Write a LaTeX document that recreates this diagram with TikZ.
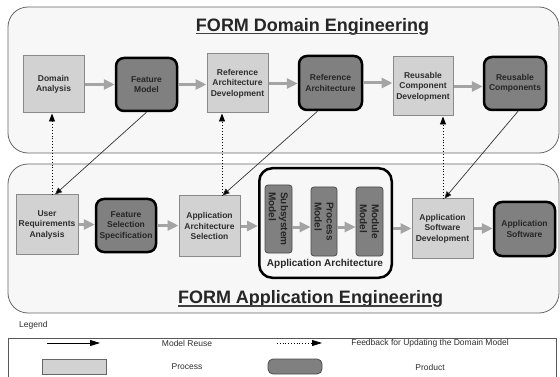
\documentclass[tikz,border=0pt]{standalone}
\usepackage{fontspec}
\setmainfont{Liberation Sans}
\usetikzlibrary{arrows.meta,calc}
\definecolor{panelbg}{HTML}{F7F7F7}
\definecolor{panelline}{HTML}{666666}
\definecolor{procfill}{HTML}{D2D2D2}
\definecolor{procline}{HTML}{8A8A8A}
\definecolor{prodfill}{HTML}{808080}
\definecolor{arrowgray}{HTML}{A4A4A4}
\definecolor{textc}{HTML}{2E2E2E}
\begin{document}
\begin{tikzpicture}[x=1pt,y=-1pt,
  panel/.style={draw=panelline, fill=panelbg, line width=0.8pt, rounded corners=20pt},
  boxfont/.style={font=\fontsize{8.5}{10.5}\selectfont\bfseries},
  proc/.style={boxfont, draw=procline, fill=procfill, line width=1pt, inner sep=0pt, align=center, text=textc},
  prod/.style={boxfont, draw=black, fill=prodfill, line width=2.5pt, rounded corners=8pt, inner sep=0pt, align=center, text=black!85},
  cont/.style={draw=black, fill=panelbg, line width=2.5pt, rounded corners=13pt, inner sep=0pt},
  model/.style={draw=black!70, fill=prodfill, line width=0.8pt, rounded corners=3pt, inner sep=0pt},
  rottext/.style={rotate=-90, font=\fontsize{10}{12}\selectfont\bfseries, align=left, text=black!85, inner sep=0pt},
  title/.style={font=\fontsize{18}{21}\selectfont\bfseries, text=black!85, inner sep=0pt},
  uline/.style={draw=black!75, line width=1.3pt},
  garrow/.style={draw=arrowgray, line width=3pt, -{Triangle[length=11pt,width=10pt,fill=arrowgray]}},
  reuse/.style={draw=black!80, line width=0.7pt, -{Triangle[length=7pt,width=6pt,fill=black]}},
  feed/.style={draw=black, line width=0.9pt, dotted, -{Triangle[length=8pt,width=6pt,fill=black]}},
  legtext/.style={font=\fontsize{8.5}{10}\selectfont, text=textc, inner sep=0pt},
  lreuse/.style={draw=black, line width=0.8pt, -{Triangle[length=10pt,width=6pt,fill=black]}},
  lfeed/.style={draw=black, line width=0.8pt, dotted, -{Triangle[length=10pt,width=6pt,fill=black]}},
  lproc/.style={draw=black!60, fill=procfill, line width=0.8pt, inner sep=0pt},
  lprod/.style={draw=black!70, fill=prodfill, line width=0.8pt, rounded corners=5pt, inner sep=0pt}
]
\useasboundingbox (0,0) rectangle (560,377);
\fill[white] (0,0) rectangle (560,377);

% panels
\draw[panel] (8,7) rectangle (559,153);
\draw[panel] (8,164) rectangle (559,313);

% titles
\node[title, anchor=base] (t1) at (312.5,31.5) {FORM Domain Engineering};
\draw[uline] ($(t1.base west)+(0,2.2)$) -- ($(t1.base east)+(-11,2.2)$);
\node[title, anchor=base] (t2) at (310.5,303.5) {FORM Application Engineering};
\draw[uline] ($(t2.base west)+(0,2.5)$) -- ($(t2.base east)+(-11,2.5)$);

% top row
\node[proc, minimum width=61pt, minimum height=57pt] (da) at (53.5,84.5) {Domain\\Analysis};
\node[prod, minimum width=61pt, minimum height=53pt] (fm) at (146.5,84.5) {Feature\\Model};
\node[proc, minimum width=61pt, minimum height=59pt] (rad) at (237.5,83.5) {Reference\\Architecture\\Development};
\node[prod, minimum width=63pt, minimum height=54pt] (ra) at (330.5,83) {Reference\\Architecture};
\node[proc, minimum width=60pt, minimum height=59pt] (rcd) at (423,86.5) {Reusable\\Component\\Development};
\node[prod, minimum width=62pt, minimum height=53pt] (rc) at (515,83.5) {Reusable\\Components};

\draw[garrow] (da.east) -- (da.east -| fm.west);
\draw[garrow] (fm.east) -- (fm.east -| rad.west);
\draw[garrow] (rad.east) -- (rad.east -| ra.west);
\draw[garrow] (ra.east) -- (ra.east -| rcd.west);
\draw[garrow] (rcd.east) -- (rcd.east -| rc.west);

% bottom row
\node[proc, minimum width=62pt, minimum height=59pt] (ura) at (47,224.5) {User\\Requirements\\Analysis};
\node[prod, minimum width=60pt, minimum height=53pt] (fss) at (126,225.5) {Feature\\Selection\\Specification};
\node[proc, minimum width=61pt, minimum height=60pt] (aas) at (209.5,226) {Application\\Architecture\\Selection};
\node[cont, minimum width=132.5pt, minimum height=109.5pt] (aa) at (325.5,223) {};
\node[model, minimum width=27pt, minimum height=68pt] (ssm) at (278.5,219) {};
\node[model, minimum width=26pt, minimum height=69pt] (pm) at (324,221.5) {};
\node[model, minimum width=27pt, minimum height=69pt] (mm) at (369.5,221.5) {};
\node[rottext] (ssmt) at (ssm.center) {Subsystem\\Model};
\node[rottext] (pmt) at (pm.center) {Process\\Model};
\node[rottext] (mmt) at (mm.center) {Module\\Model};
\node[font=\fontsize{10}{12}\selectfont\bfseries, text=black!85, inner sep=0pt] (aal) at (325,263.5) {Application Architecture};
\node[proc, minimum width=61pt, minimum height=59pt] (asd) at (442.5,228.5) {Application\\Software\\Development};
\node[prod, minimum width=61pt, minimum height=54pt] (as) at (524.5,229) {Application\\Software};

\coordinate (ya) at (0,227);
\draw[garrow] (ura.east) -- (ura.east -| fss.west);
\draw[garrow] (fss.east) -- (fss.east -| aas.west);
\draw[garrow] (aas.east) -- (aas.east -| aa.west);
\draw[garrow] (ssm.east |- ya) -- (pm.west |- ya);
\draw[garrow] (pm.east |- ya) -- (mm.west |- ya);
\draw[garrow] (aa.east |- asd.west) -- (asd.west);
\draw[garrow] (asd.east) -- (asd.east -| as.west);

% model reuse arrows
\draw[reuse] (fm.south) -- ($(ura.north)+(8,0)$);
\draw[reuse] ($(ra.south)+(-13,0)$) -- ($(aas.north)+(13,0)$);
\draw[reuse] ($(rc.south)+(3,0)$) -- ($(asd.north)+(2,0)$);

% feedback arrows
\coordinate (f1) at (52,0);
\coordinate (f2) at (222,0);
\coordinate (f3) at (443,0);
\draw[feed] (ura.north -| f1) -- (da.south -| f1);
\draw[feed] (aas.north -| f2) -- (rad.south -| f2);
\draw[feed] (asd.north -| f3) -- (rcd.south -| f3);

% legend
\node[legtext, anchor=west] (leg) at (19,325) {Legend};
\draw[draw=black!65, line width=0.8pt] (8,338) rectangle (556,395);
\coordinate (la) at (47,343);
\coordinate (lb) at (100,343);
\draw[lreuse] (la) -- (lb);
\node[legtext] (lt1) at (187,343.5) {Model Reuse};
\coordinate (lc) at (277,343);
\coordinate (ld) at (322,343);
\draw[lfeed] (lc) -- (ld);
\node[legtext] (lt2) at (430,343.5) {Feedback for Updating the Domain Model};
\node[lproc, minimum width=64pt, minimum height=15pt] (lp) at (74,366.5) {};
\node[legtext] (lt3) at (187,367) {Process};
\node[lprod, minimum width=54pt, minimum height=15pt] (lq) at (295,366.5) {};
\node[legtext] (lt4) at (430,367) {Product};
\end{tikzpicture}
\end{document}
